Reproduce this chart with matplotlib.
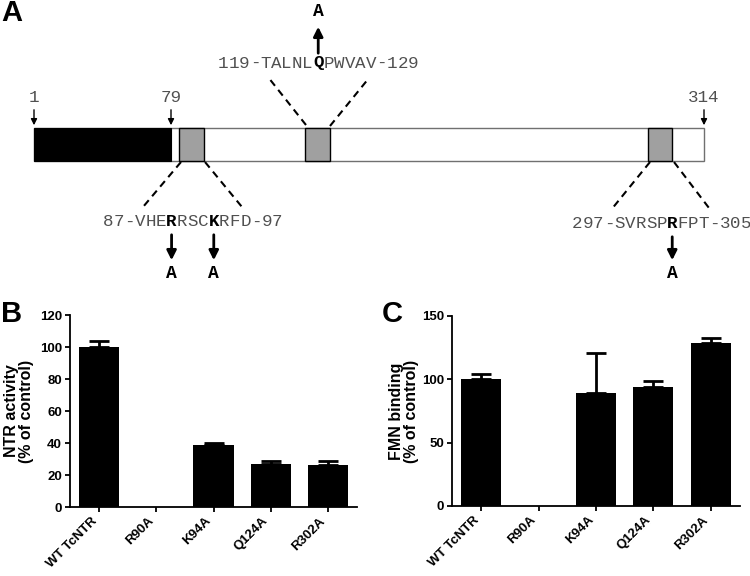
import matplotlib
matplotlib.use("Agg")
from matplotlib import pyplot as plt
from matplotlib.patches import Rectangle

# datos de los paneles B y C
mutantes = ["WT TcNTR", "R90A", "K94A", "Q124A", "R302A"]
ntr = [100, 0, 39, 27, 26.5]          # actividad NTR (% del control)
ntr_err = [4, 0, 1.3, 2, 2]
fmn = [100, 0, 89, 94, 129]           # union de FMN (% del control)
fmn_err = [4, 0, 32, 5, 4]

# panel A: esquema de la proteina
residuos = ["1", "79", "314"]
residuos_x = [34, 171, 704]
secuencias = ["119-TALNLQPWVAV-129", "87-VHERRSCKRFD-97", "297-SVRSPRFPT-305"]
sec_x0 = [218, 103, 572]
sec_y = [63, 222, 224]
mutados = [[9], [6, 10], [9]]          # posiciones de los residuos cambiados a A
cajas = [(179, 204), (305, 330), (648, 672)]

mono = "Liberation Mono"
sans = "Liberation Sans"
gris = "#505050"
cw = 10.55  # ancho de caracter en pixeles

fig = plt.figure(figsize=(7.5, 5.76), dpi=100)
ax0 = fig.add_axes([0, 0, 1, 1])
ax0.set_xlim(0, 750)
ax0.set_ylim(576, 0)
ax0.axis("off")

# barra de la proteina
ax0.add_patch(Rectangle((34, 128), 704 - 34, 33, facecolor="white", edgecolor="#707070", lw=1))
ax0.add_patch(Rectangle((34, 128), 171 - 34, 33, facecolor="black", edgecolor="black", lw=0.8))
for a, b in cajas:
    ax0.add_patch(Rectangle((a, 128), b - a, 33, facecolor="#a0a0a0", edgecolor="black", lw=1))

for r, x in zip(residuos, residuos_x):
    ax0.text(x, 97, r, family=mono, fontsize=12.6, color=gris, ha="center", va="center")
    ax0.annotate("", xy=(x, 128), xytext=(x, 107),
                 arrowprops=dict(arrowstyle="-|>", lw=1, color="black", mutation_scale=9))

# secuencias con el residuo mutado en negrita
for s, x0, y, muts in zip(secuencias, sec_x0, sec_y, mutados):
    for i, ch in enumerate(s):
        xc = x0 + (i + 0.5) * cw
        if i in muts:
            ax0.text(xc, y, ch, family=mono, fontsize=12.6, color="black", weight="bold",
                     ha="center", va="center")
        else:
            ax0.text(xc, y, ch, family=mono, fontsize=12.6, color=gris, ha="center", va="center")
    for i in muts:
        xc = x0 + (i + 0.5) * cw
        if y < 100:
            ax0.annotate("", xy=(xc, 24), xytext=(xc, 56),
                         arrowprops=dict(arrowstyle="-|>", lw=2, color="black", mutation_scale=14))
            ax0.text(xc, 11, "A", family=mono, fontsize=13, weight="bold", ha="center", va="center")
        else:
            ax0.annotate("", xy=(xc, 263), xytext=(xc, y + 10),
                         arrowprops=dict(arrowstyle="-|>", lw=2, color="black", mutation_scale=14))
            ax0.text(xc, 274, "A", family=mono, fontsize=13, weight="bold", ha="center", va="center")

# lineas punteadas hacia las cajas
dash = (0, (3.5, 2.5))
ax0.plot([306, 268], [125, 77], color="black", lw=1.5, ls=dash)
ax0.plot([330, 369], [126, 78], color="black", lw=1.5, ls=dash)
ax0.plot([181, 143], [162, 207], color="black", lw=1.5, ls=dash)
ax0.plot([205, 242], [162, 207], color="black", lw=1.5, ls=dash)
ax0.plot([650, 611], [162, 210], color="black", lw=1.5, ls=dash)
ax0.plot([674, 709], [162, 208], color="black", lw=1.5, ls=dash)

# letras de los paneles
ax0.text(12, 13, "A", family=sans, weight="bold", fontsize=21, ha="center", va="center")
ax0.text(12, 314, "B", family=sans, weight="bold", fontsize=21, ha="center", va="center")
ax0.text(392, 314, "C", family=sans, weight="bold", fontsize=21, ha="center", va="center")


def barras(ax, valores, errores, ymax, paso, etiqueta, xlab):
    xx = list(range(len(mutantes)))
    ax.bar(xx, valores, width=0.7, color="black", zorder=3)
    idx = [i for i in xx if valores[i] > 0]
    ax.errorbar([xx[i] for i in idx], [valores[i] for i in idx],
                yerr=[[0] * len(idx), [errores[i] for i in idx]],
                fmt="none", ecolor="black", elinewidth=2, capsize=7.5, capthick=2, zorder=2)
    ax.set_xlim(-0.51, len(mutantes) - 0.49)
    ax.set_ylim(0, ymax)
    ax.set_yticks(range(0, ymax + 1, paso))
    ax.set_xticks(xx)
    ax.set_xticklabels(mutantes, rotation=45, ha="right", family=sans, weight="bold", fontsize=9.5)
    for t in ax.get_yticklabels():
        t.set_family(sans)
        t.set_weight("bold")
        t.set_fontsize(9.5)
    for s in ["top", "right"]:
        ax.spines[s].set_visible(False)
    for s in ["left", "bottom"]:
        ax.spines[s].set_linewidth(1.3)
    ax.tick_params(direction="out", length=3.8, width=1.3, pad=2)
    ax.set_ylabel(etiqueta, family=sans, weight="bold", fontsize=11.5, linespacing=1.0)
    ax.yaxis.set_label_coords(xlab, 0.5)
    ax.patch.set_alpha(0)


axB = fig.add_axes([70 / 750, 1 - 507 / 576, 287 / 750, 192 / 576])
barras(axB, ntr, ntr_err, 120, 20, "NTR activity\n(% of control)", -0.125)

axC = fig.add_axes([452 / 750, 1 - 506 / 576, 288 / 750, 190 / 576])
barras(axC, fmn, fmn_err, 150, 50, "FMN binding\n(% of control)", -0.115)

plt.savefig("out.png", dpi=100)
